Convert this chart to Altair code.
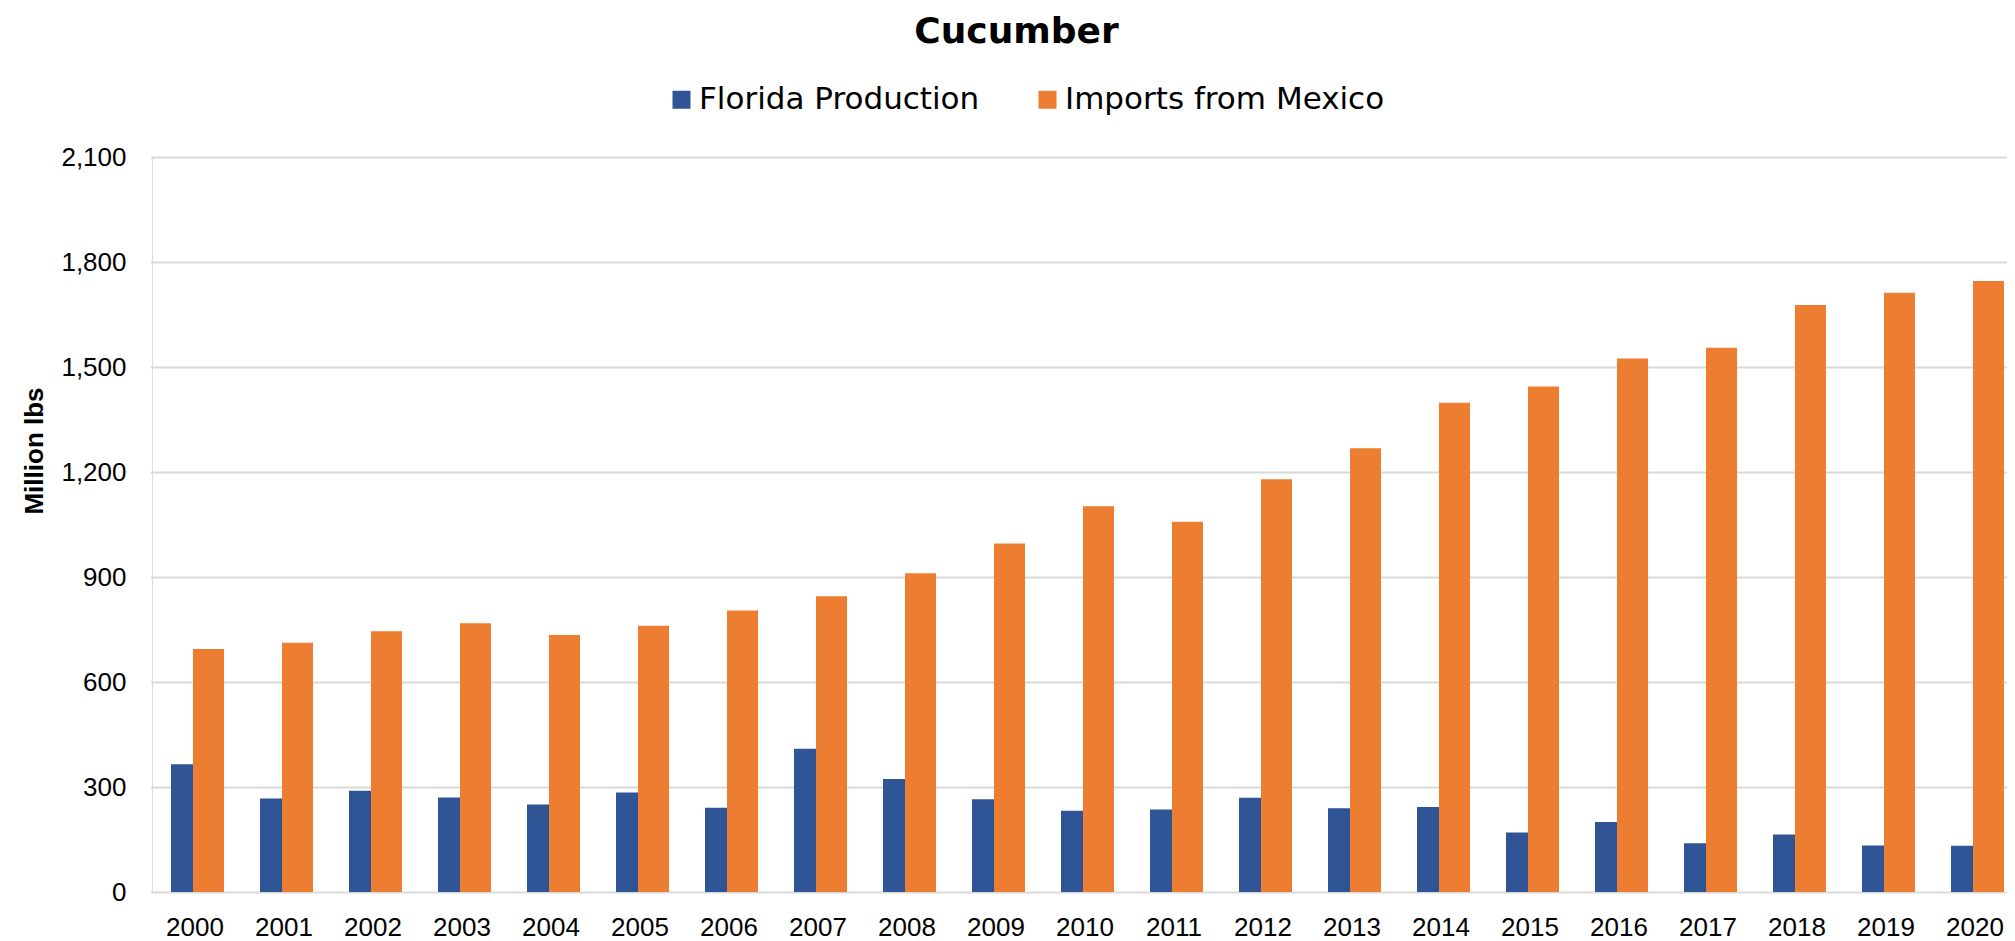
import altair as alt
import pandas as pd

years = [str(y) for y in range(2000, 2021)]
florida = [365, 267, 289, 270, 250, 284, 241, 409, 323, 265, 232, 236, 269, 239, 243, 170, 200, 139, 164, 133, 132]
mexico = [694, 712, 745, 768, 734, 761, 804, 845, 911, 996, 1102, 1058, 1179, 1268, 1398, 1444, 1524, 1555, 1677, 1712, 1746]
series_names = ["Florida Production", "Imports from Mexico"]
series_colors = ["#2F5597", "#ED7D31"]
y_ticks = [0, 300, 600, 900, 1200, 1500, 1800, 2100]

df = pd.DataFrame(
    {"Year": years * 2,
     "Series": [series_names[0]] * len(years) + [series_names[1]] * len(years),
     "Value": florida + mexico}
)

x = alt.X("Year:N", sort=years,
          scale=alt.Scale(type="band", range=[-1.5, 1867.5], paddingInner=0, paddingOuter=0),
          axis=alt.Axis(title=None, labelAngle=0, labelFont="Liberation Sans", labelFontSize=26,
                        labelColor="#000000", ticks=False, domain=False, labelPadding=22, grid=False))
y = alt.Y("Value:Q",
          scale=alt.Scale(domain=[0, 2100], nice=False, zero=True),
          axis=alt.Axis(title="Million lbs", values=y_ticks, format=",.0f", labelFont="Liberation Sans",
                        labelFontSize=26, labelColor="#000000", ticks=False, domain=False,
                        labelPadding=26, grid=True, gridColor="#d9d9d9", gridWidth=2,
                        titleFont="Liberation Sans", titleFontSize=26, titleFontWeight="bold",
                        titleColor="#000000", titleAngle=-90, titleAlign="center",
                        titleBaseline="alphabetic", titleX=-110, titleY=293.5))
color = alt.Color("Series:N",
                  scale=alt.Scale(domain=series_names, range=series_colors),
                  legend=alt.Legend(title=None, orient="none", direction="horizontal",
                                    legendX=514, legendY=-73, symbolType="square", symbolSize=324,
                                    symbolStrokeWidth=0, labelFont="DejaVu Sans", labelFontSize=31,
                                    labelColor="#000000", labelOffset=2, columnPadding=52,
                                    labelLimit=600, padding=0))

base = alt.Chart(df)
blue = base.transform_filter(alt.datum.Series == series_names[0]).mark_bar(width=22, xOffset=-13).encode(
    x=x, y=y, color=color)
orange = base.transform_filter(alt.datum.Series == series_names[1]).mark_bar(width=31, xOffset=13.5).encode(
    x=x, y=y, color=color)

chart = alt.layer(blue, orange).properties(
    width=1855, height=735,
    autosize=alt.AutoSizeParams(type="none"),
    padding={"left": 144, "top": 149, "right": 0, "bottom": 48},
    title=alt.TitleParams("Cucumber", font="DejaVu Sans", fontSize=36, fontWeight="bold",
                          color="#000000", anchor="middle", dx=-63, offset=33),
).configure_view(stroke=None).configure(background="white")

chart.save("out.html", embed_options={"renderer": "svg", "actions": False})
